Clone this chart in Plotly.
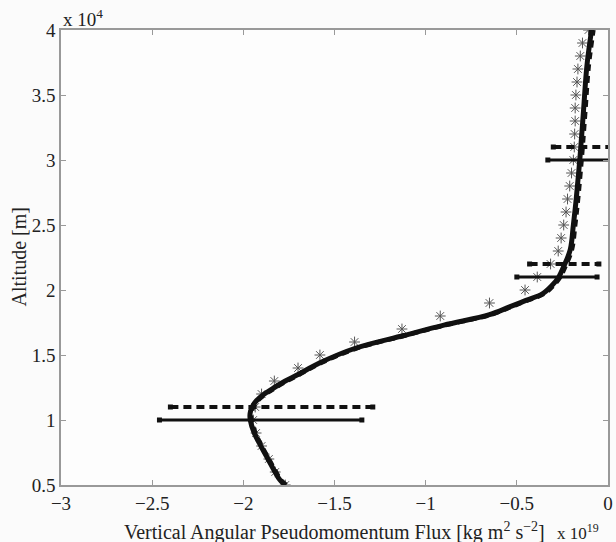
import plotly.graph_objects as go

# ---- data (altitude in units of 1e4 m, flux in units of 1e19 kg m^2 s^-2) ----
curve_alt = [0.5, 0.54, 0.61, 0.70, 0.79, 0.90, 1.0, 1.05, 1.1, 1.15, 1.2, 1.25, 1.3, 1.35,
             1.44, 1.55, 1.65, 1.73, 1.81, 1.87, 1.92, 1.97, 2.03, 2.1, 2.18, 2.31, 2.5,
             2.69, 3.05, 3.385, 3.72, 4.0]
solid_flux = [-1.77, -1.80, -1.83, -1.865, -1.90, -1.94, -1.962, -1.963, -1.952, -1.927,
              -1.885, -1.83, -1.77, -1.70, -1.58, -1.39, -1.12, -0.90, -0.65, -0.54,
              -0.45, -0.36, -0.31, -0.27, -0.243, -0.207, -0.19, -0.175, -0.152, -0.134,
              -0.116, -0.09]
dashed_flux = [-1.765, -1.795, -1.825, -1.86, -1.895, -1.934, -1.955, -1.956, -1.945, -1.92,
               -1.877, -1.822, -1.762, -1.692, -1.572, -1.382, -1.112, -0.892, -0.642, -0.532,
               -0.442, -0.352, -0.302, -0.262, -0.234, -0.198, -0.18, -0.165, -0.142, -0.124,
               -0.106, -0.08]

star_alt = [0.5, 0.6, 0.7, 0.8, 0.9, 1.0, 1.1, 1.2, 1.3, 1.4, 1.5, 1.6, 1.7, 1.8, 1.9,
            2.0, 2.1, 2.2, 2.3, 2.4, 2.5, 2.6, 2.7, 2.8, 2.9, 3.0, 3.1, 3.2, 3.3, 3.4,
            3.5, 3.6, 3.7, 3.8, 3.9, 4.0]
star_flux = [-1.77, -1.825, -1.86, -1.90, -1.93, -1.946, -1.935, -1.90, -1.83, -1.70,
             -1.58, -1.39, -1.13, -0.92, -0.65, -0.455, -0.388, -0.315, -0.273, -0.257,
             -0.243, -0.23, -0.222, -0.21, -0.20, -0.19, -0.185, -0.183, -0.18, -0.18,
             -0.176, -0.17, -0.165, -0.152, -0.14, -0.107]

err_alt_solid = [1.0, 2.1, 3.0]
err_lo_solid = [-2.46, -0.50, -0.33]
err_hi_solid = [-1.35, -0.06, 0.03]
err_alt_dashed = [1.1, 2.2, 3.1]
err_lo_dashed = [-2.40, -0.43, -0.30]
err_hi_dashed = [-1.29, -0.05, 0.05]

x_ticks = [-3, -2.5, -2, -1.5, -1, -0.5, 0]
y_ticks = [0.5, 1, 1.5, 2, 2.5, 3, 3.5, 4]

x_title = "Vertical Angular Pseudomomentum Flux [kg m<sup>2</sup> s<sup>−2</sup>]"
y_title = "Altitude [m]"

FONT = "Liberation Serif"
INK = "#111111"
TXT = "#222222"

fig = go.Figure()

fig.add_trace(go.Scatter(x=star_flux, y=star_alt, mode="markers",
                         marker=dict(symbol="asterisk-open", size=9, color="#555555",
                                     line=dict(color="#555555", width=1)),
                         showlegend=False))

fig.add_trace(go.Scatter(x=solid_flux, y=curve_alt, mode="lines",
                         line=dict(color=INK, width=5, shape="spline"),
                         showlegend=False))
fig.add_trace(go.Scatter(x=dashed_flux, y=curve_alt, mode="lines",
                         line=dict(color=INK, width=4.5, shape="spline", dash="7px,5px"),
                         showlegend=False))

for a, lo, hi in zip(err_alt_solid, err_lo_solid, err_hi_solid):
    fig.add_trace(go.Scatter(x=[lo, hi], y=[a, a], mode="lines+markers",
                             line=dict(color=INK, width=3),
                             marker=dict(symbol="square", size=5, color=INK),
                             showlegend=False))
for a, lo, hi in zip(err_alt_dashed, err_lo_dashed, err_hi_dashed):
    fig.add_trace(go.Scatter(x=[lo, hi], y=[a, a], mode="lines+markers",
                             line=dict(color=INK, width=4, dash="8px,5px"),
                             marker=dict(symbol="square", size=5, color=INK),
                             showlegend=False))

axis_common = dict(showgrid=False, zeroline=False, showline=True, linecolor="#999999",
                   linewidth=1.5, mirror="ticks", ticks="inside", ticklen=5,
                   tickcolor="#999999", tickwidth=1,
                   tickfont=dict(family=FONT, size=19, color=TXT))

fig.update_xaxes(range=[-3, 0], tickvals=x_ticks, **axis_common)
fig.update_yaxes(range=[0.5, 4], tickvals=y_ticks, **axis_common)

# axis titles as annotations for exact placement
fig.add_annotation(text=x_title, xref="paper", yref="paper", x=0.5, y=0,
                   xanchor="center", yanchor="middle", showarrow=False, yshift=-46,
                   font=dict(family=FONT, size=20, color=TXT))
fig.add_annotation(text=y_title, xref="paper", yref="paper", x=0, y=0.5, textangle=-90,
                   xanchor="center", yanchor="middle", showarrow=False, xshift=-43,
                   font=dict(family=FONT, size=20, color=TXT))

fig.add_annotation(text="x 10<sup>4</sup>", xref="paper", yref="paper", x=0, y=1,
                   xanchor="left", yanchor="bottom", showarrow=False, yshift=-2,
                   font=dict(family=FONT, size=19, color=TXT))
fig.add_annotation(text="x 10<sup>19</sup>", xref="paper", yref="paper", x=1, y=0,
                   xanchor="right", yanchor="middle", showarrow=False, xshift=-7, yshift=-47,
                   font=dict(family=FONT, size=17, color=TXT))

fig.update_layout(width=616, height=542, margin=dict(l=61, r=3, t=30, b=57),
                  paper_bgcolor="#fbfbfb", plot_bgcolor="#fdfdfd",
                  font=dict(family=FONT))

fig.write_html("out.html")
